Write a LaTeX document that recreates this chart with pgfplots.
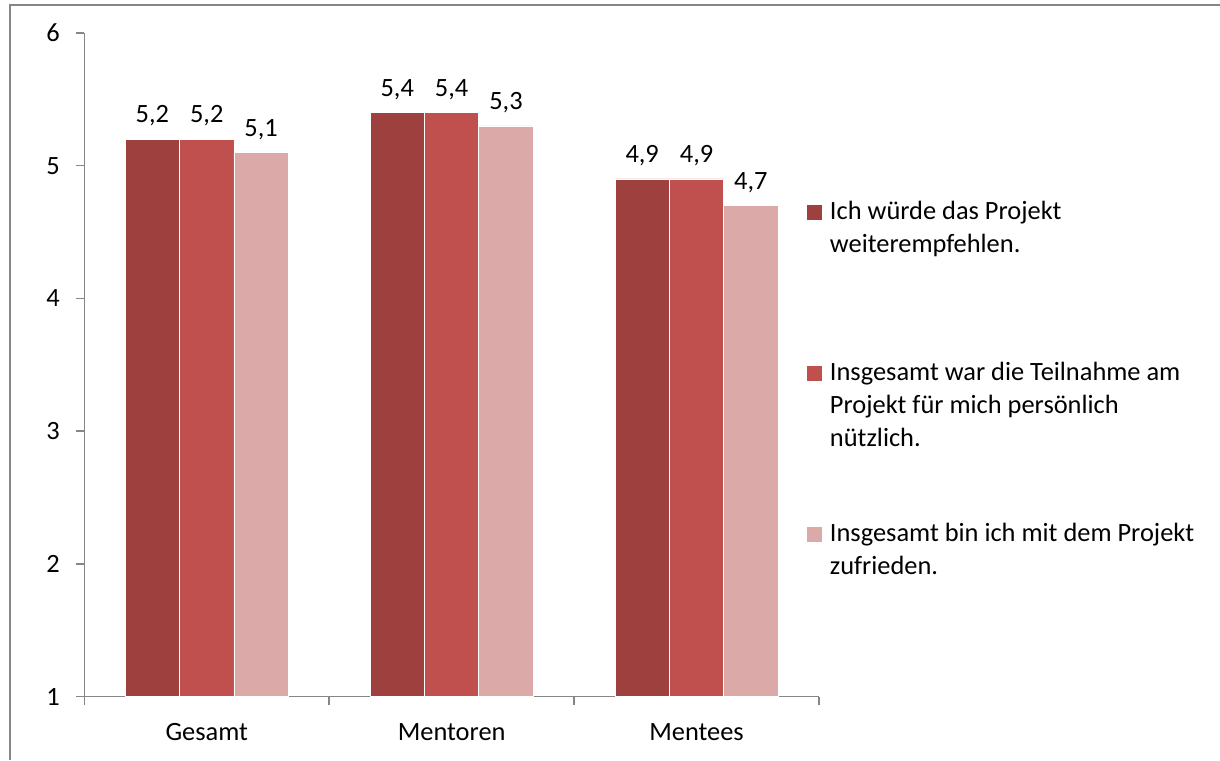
\documentclass[border=0pt]{standalone}
\usepackage{fontspec}
\setmainfont{Carlito}
\usepackage{pgfplots}
\pgfplotsset{compat=1.18}

\definecolor{barA}{HTML}{9E413E}
\definecolor{barB}{HTML}{C0504D}
\definecolor{barC}{HTML}{DAA9A8}
\definecolor{axgray}{HTML}{868686}

\begin{document}
\begin{tikzpicture}[font=\fontsize{13.2}{16.5}\selectfont]
\useasboundingbox (0,0) rectangle (610pt,380pt);
% chart frame (right and bottom edges are cut off in the original)
\draw[axgray, line width=0.8pt] (5pt,0pt) -- (5pt,377.5pt) -- (610pt,377.5pt);
\begin{axis}[
  at={(42.15pt,31.7pt)}, anchor=south west,
  scale only axis, width=367.35pt, height=331.8pt,
  ybar, bar width=0.222,
  xmin=-0.5, xmax=2.5, ymin=1, ymax=6,
  xtick={0,1,2}, xticklabels={Gesamt,Mentoren,Mentees},
  minor xtick={-0.5,0.5,1.5,2.5},
  ytick={1,2,3,4,5,6},
  axis lines*=left,
  axis line style={axgray, line width=0.75pt},
  tick align=outside,
  major tick length=4.2pt, minor tick length=4.2pt,
  tick style={axgray, line width=0.75pt},
  major x tick style={draw=none},
  yticklabel style={xshift=-4.5pt},
  xticklabel style={yshift=-5.5pt},
  /pgf/number format/assume math mode=true,
  nodes near coords={\pgfmathprintnumber[use comma,fixed,fixed zerofill,precision=1]{\pgfplotspointmeta}},
  every node near coord/.append style={yshift=3pt, black},
  legend style={at={(0.9831,0.7545)}, anchor=north west, draw=none, fill=none,
    inner sep=0pt, row sep=0pt, column sep=4pt,
    nodes={inner sep=0pt, text depth=}, cells={anchor=base west}},
  legend image code/.code={\fill[#1,draw=none] (0pt,-0.3pt) rectangle (7.5pt,7.2pt);},
]
\addplot[fill=barA, draw=white, line width=0.4pt, bar shift=-0.222]
  coordinates {(0,5.2) (1,5.4) (2,4.9)};
\addlegendentry{\parbox[t][80.5pt][t]{190pt}{\strut Ich würde das Projekt\\weiterempfehlen.}}
\addplot[fill=barB, draw=white, line width=0.4pt, bar shift=0]
  coordinates {(0,5.2) (1,5.4) (2,4.9)};
\addlegendentry{\parbox[t][80.5pt][t]{190pt}{\strut Insgesamt war die Teilnahme am\\Projekt für mich persönlich\\nützlich.}}
\addplot[fill=barC, draw=white, line width=0.4pt, bar shift=0.222]
  coordinates {(0,5.1) (1,5.3) (2,4.7)};
\addlegendentry{\parbox[t][80.5pt][t]{190pt}{\strut Insgesamt bin ich mit dem Projekt\\zufrieden.}}
\end{axis}
\end{tikzpicture}
\end{document}
